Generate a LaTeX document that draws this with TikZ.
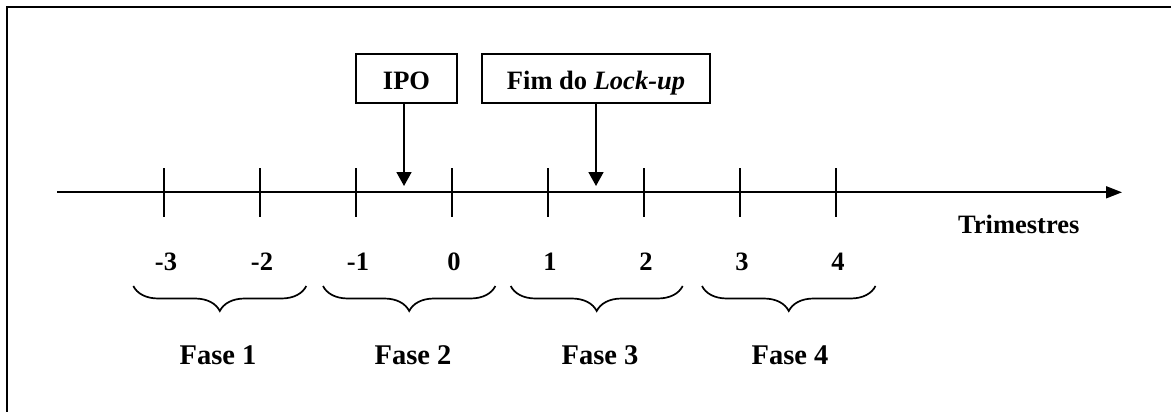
\documentclass[tikz,border=0pt]{standalone}
\usepackage{fontspec}
\setmainfont{Liberation Serif}
\usetikzlibrary{arrows.meta,decorations.pathreplacing}
\begin{document}
\begin{tikzpicture}[x=1pt,y=-1pt,
  txt/.style={font=\bfseries\fontsize{26.5}{30}\selectfont},
  lbl/.style={txt, inner sep=0pt, anchor=base},
  faselbl/.style={lbl, font=\bfseries\fontsize{28.5}{32}\selectfont},
  evbox/.style={txt, draw, line width=2pt, inner sep=0pt, minimum height=48.4pt, text height=23pt, text depth=0pt},
  tickln/.style={line width=1.7pt},
  ptr/.style={line width=1.7pt, -{Triangle[length=14pt,width=15pt]}},
  brc/.style={line width=1.7pt, decorate, decoration={brace, mirror, amplitude=25pt}}]
\useasboundingbox (0,0) rectangle (1171,412);
\draw[line width=2pt] (6.7,412) -- (6.7,6.7) -- (1171,6.7);
% axis
\coordinate (a0) at (57,192.3);
\coordinate (a1) at (1122,192.3);
\draw[line width=1.7pt, -{Triangle[length=16pt,width=12pt]}] (a0) -- (a1);
\foreach \x [count=\i] in {164,260,356,452,548,644,740,836} {
  \coordinate (t\i) at (\x,192.3);
  \draw[tickln] (\x,168) -- (\x,216.7);
}
\foreach \t [count=\i] in {-3,-2,-1,0,1,2,3,4} {
  \path (t\i) ++(2,78.2) node[lbl] (n\i) {\t};
}
\node[lbl, anchor=base west] (trim) at (958,233) {Trimestres};
% boxes
\node[evbox, minimum width=101.6pt] (ipo) at (406.5,78.5) {IPO};
\node[evbox, minimum width=228.6pt] (lock) at (596,78.5) {Fim do \textit{Lock-up}};
\coordinate (ipoT) at (404,186);
\coordinate (lockT) at (596,186);
\draw[ptr] (ipo.south -| ipoT) -- (ipoT);
\draw[ptr] (lock.south -| lockT) -- (lockT);
% braces
\foreach \l/\r/\c/\k in {133.3/306.3/218/1, 323/495.4/413/2, 510.7/682.7/600/3, 702/875.5/790/4} {
  \coordinate (bl\k) at (\l,286);
  \coordinate (br\k) at (\r,286);
  \draw[brc] (bl\k) -- (br\k);
  \node[faselbl] (f\k) at (\c,364) {Fase \k};
}
\end{tikzpicture}
\end{document}
